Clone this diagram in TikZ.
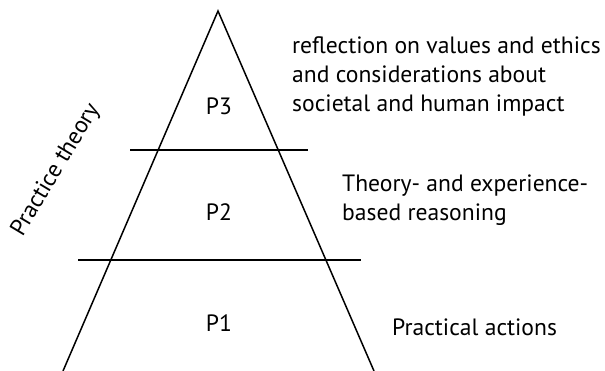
\documentclass[tikz,border=0pt]{standalone}
\usepackage{fontspec}
\setmainfont{PT Sans}
\begin{document}
\begin{tikzpicture}[x=1pt,y=-1pt,
  edge/.style={line width=1.5pt},
  lbl/.style={inner sep=0pt,font=\fontsize{23.6}{29}\selectfont},
  desc/.style={lbl,align=left,anchor=west}]
\useasboundingbox (0,0) rectangle (605,371);
% triangle
\coordinate (apex) at (218,11);
\coordinate (bl) at (63,371);
\coordinate (br) at (374,371);
\draw[edge,line join=miter] (bl) -- (apex) -- (br);
\draw[black!12,line width=0.8pt] (bl) -- (br);
% divider lines
\coordinate (l1a) at (130,150);
\coordinate (l1b) at (308,150);
\coordinate (l2a) at (78,260);
\coordinate (l2b) at (361,260);
\draw[edge] (l1a) -- (l1b);
\draw[edge] (l2a) -- (l2b);
% level labels
\node[lbl] (p3) at (219,106) {P3};
\node[lbl] (p2) at (219,212) {P2};
\node[lbl] (p1) at (219,323) {P1};
% descriptions
\node[desc] (d3) at (292,76) {reflection on values and ethics\\and considerations about\\societal and human impact};
\node[desc] (d2) at (342,200) {Theory- and experience-\\based reasoning};
\node[desc] (d1) at (392,327) {Practical actions};
% side label
\node[lbl,rotate=59] (pt) at (56,170) {Practice theory};
\end{tikzpicture}
\end{document}
